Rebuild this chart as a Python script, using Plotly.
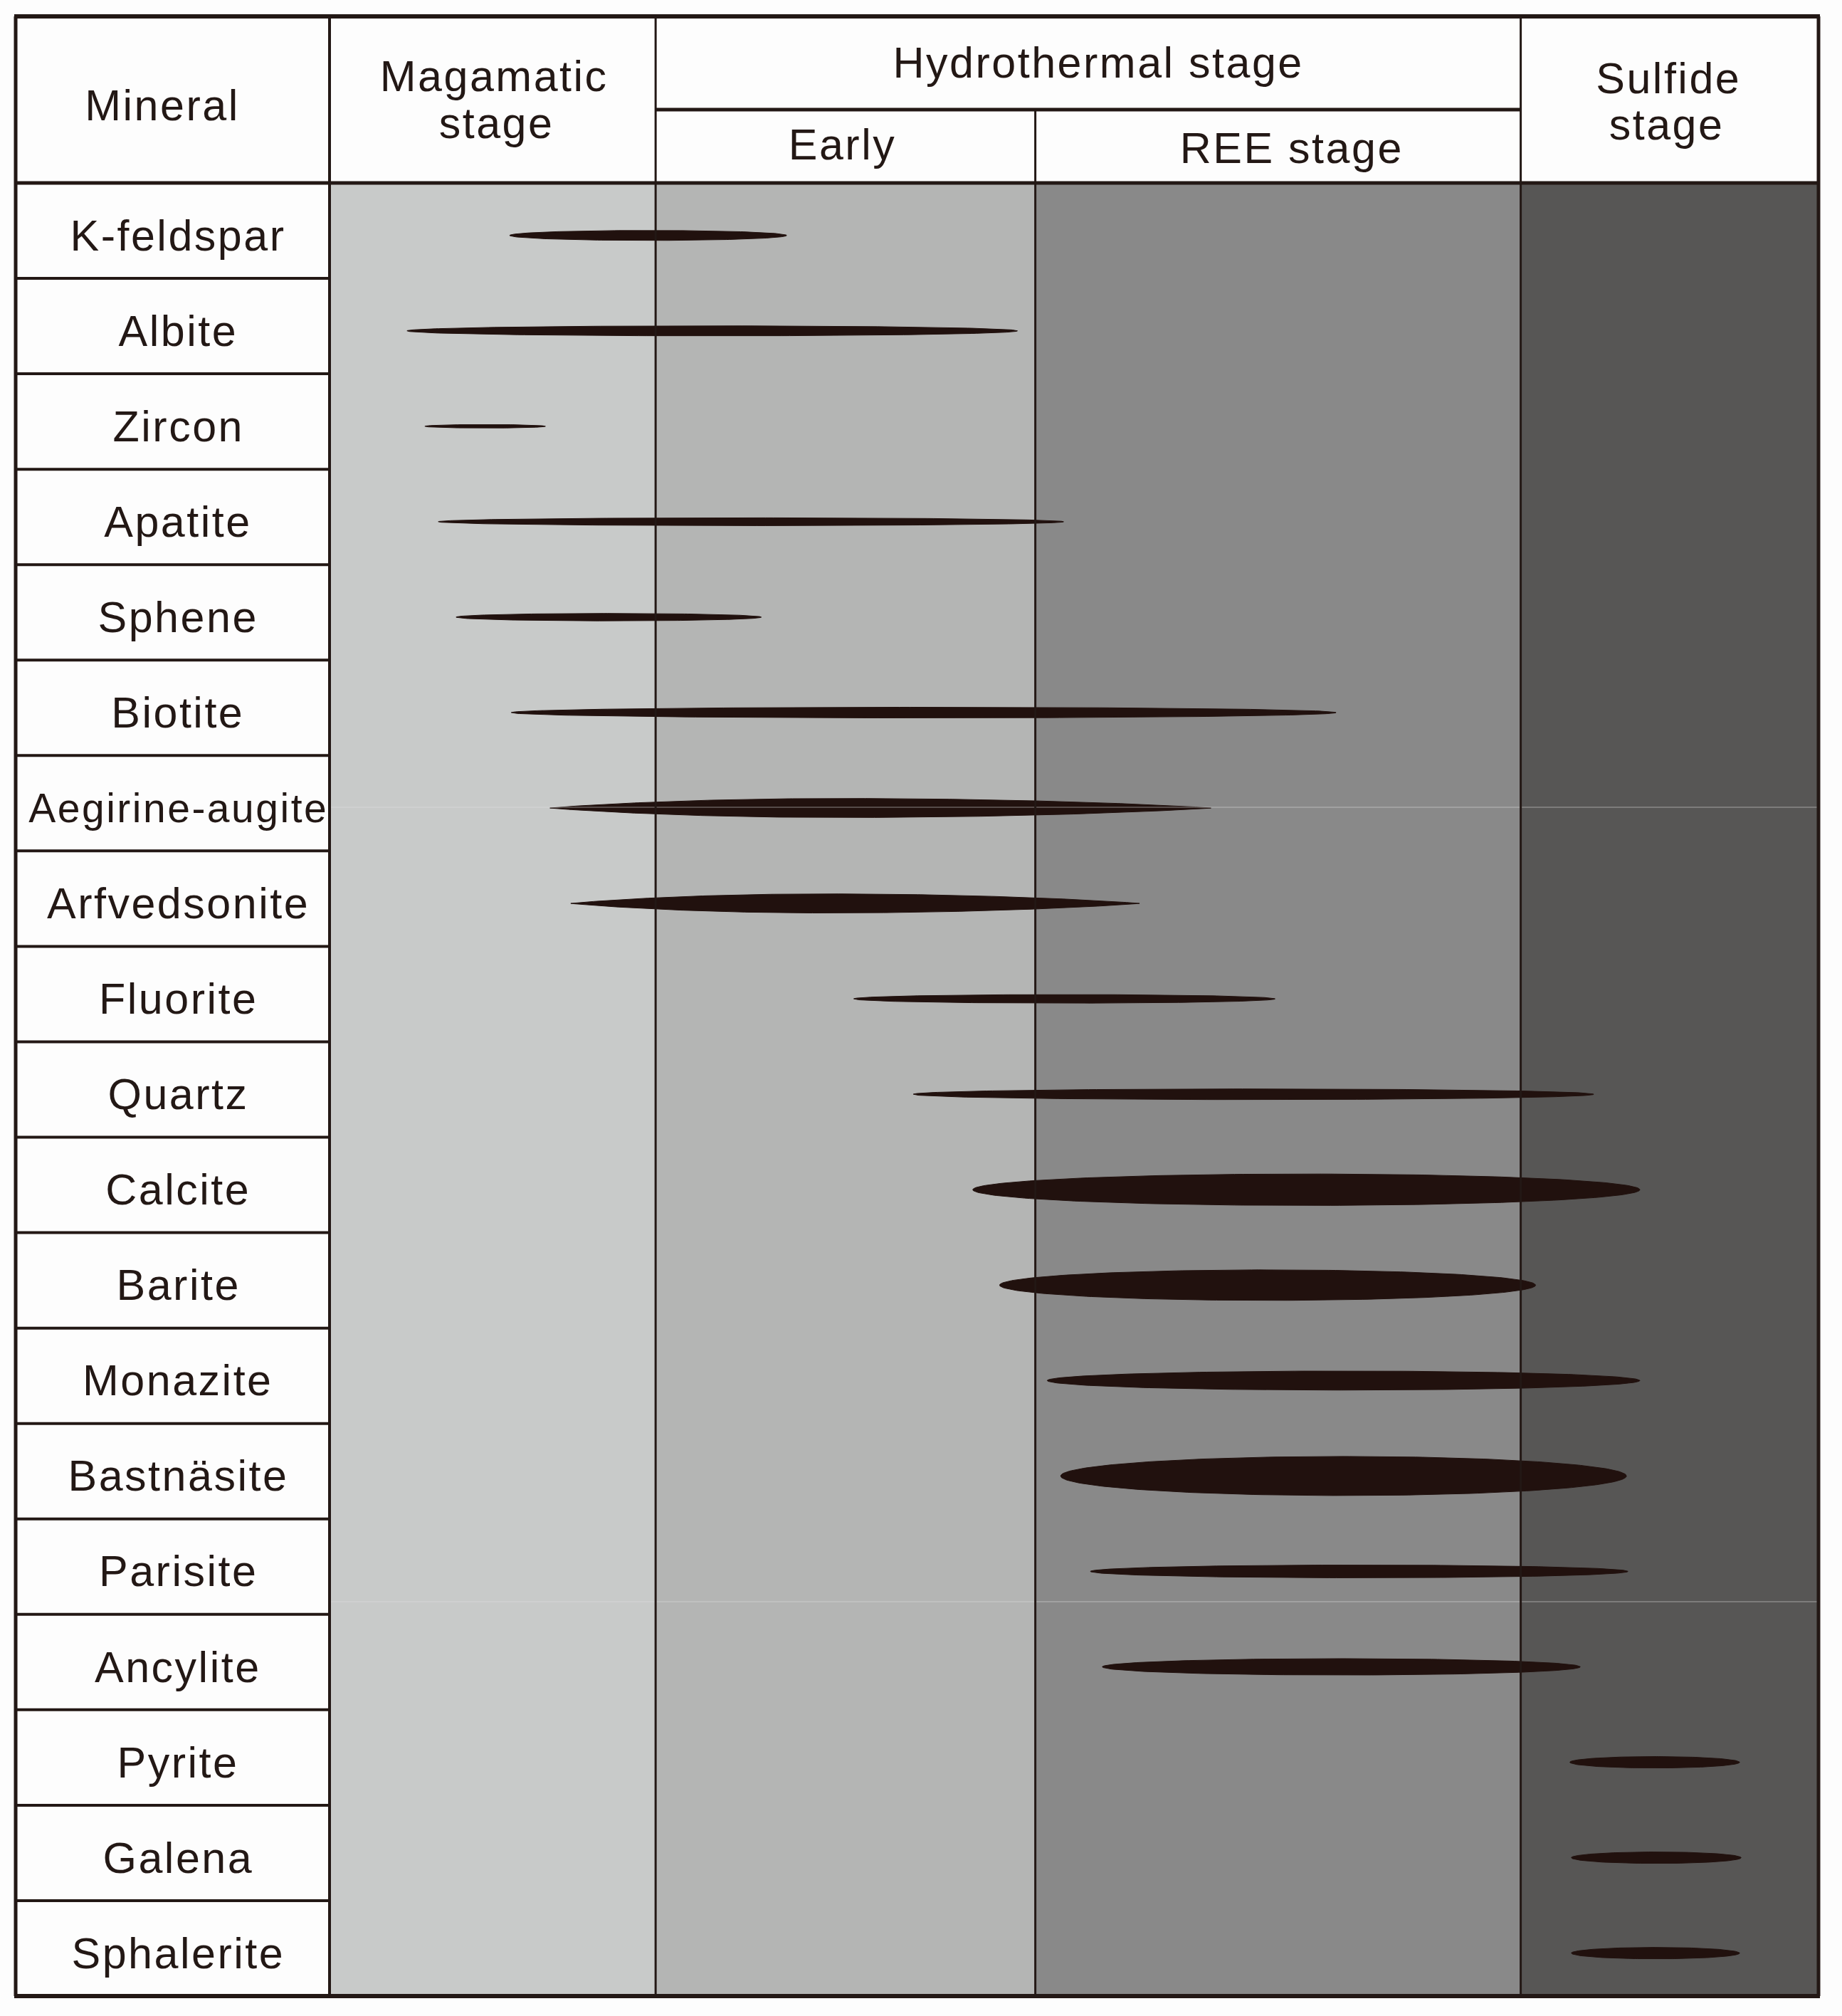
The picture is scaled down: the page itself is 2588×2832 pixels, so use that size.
import numpy as np
import plotly.graph_objects as go

W, H = 2588, 2832

# ---------------- data ----------------
minerals = ["K-feldspar", "Albite", "Zircon", "Apatite", "Sphene", "Biotite",
            "Aegirine-augite", "Arfvedsonite", "Fluorite", "Quartz", "Calcite",
            "Barite", "Monazite", "Bastnäsite", "Parisite", "Ancylite",
            "Pyrite", "Galena", "Sphalerite"]
# relative paragenetic time (0 = start of magmatic stage, 100 = end of sulfide stage)
lens_start = [12.1, 5.2, 6.4, 7.3, 8.5, 12.2, 14.8, 16.2, 35.2, 39.2, 43.2,
              45.0, 48.2, 49.1, 51.1, 51.9, 83.3, 83.4, 83.4]
lens_end = [30.7, 46.2, 14.5, 49.3, 29.0, 67.6, 59.2, 54.4, 63.5, 84.9, 88.0,
            81.0, 88.0, 87.1, 87.2, 84.0, 94.7, 94.8, 94.7]
# peak of asymmetric lenses (None = symmetric lens)
lens_peak = [None, None, None, None, None, None, 34.3, 33.3, None, None, None,
             None, None, None, None, None, None, None, None]
# relative abundance (lens thickness, fraction of a row)
lens_thick = [0.105, 0.105, 0.037, 0.082, 0.078, 0.112, 0.20, 0.20, 0.09, 0.112,
              0.33, 0.32, 0.20, 0.41, 0.134, 0.172, 0.12, 0.12, 0.12]

stage_names = ["Magamatic stage", "Early", "REE stage", "Sulfide stage"]
stage_bounds = [0, 21.9, 47.4, 80.0, 100]
stage_colors = ["#c8cac9", "#b4b5b4", "#898989", "#575655"]

# ---------------- layout geometry (pixels) ----------------
LEFT, RIGHT, TOP, BOTTOM = 22, 2555, 23, 2804
COL1 = 463          # right edge of mineral column
HDR_SPLIT = 154     # hydrothermal header split
HDR_BOT = 257       # header bottom
LABEL_X = 250       # centre of mineral labels
LINE = "#231815"
LENS = "#21110e"
FONT = "Arial, 'Liberation Sans', Helvetica, sans-serif"

def px(xp):
    return xp / W

def py(yp):
    return 1 - yp / H

n = len(minerals)
fig = go.Figure()

# lenses
for i in range(n):
    s, e, p, t = lens_start[i], lens_end[i], lens_peak[i], lens_thick[i]
    yc = i + 0.05
    hh = t / 2
    if p is None:
        th = np.linspace(0, 2 * np.pi, 240)
        xs = (s + e) / 2 + (e - s) / 2 * np.cos(th)
        ys = yc + hh * np.sin(th)
    else:
        xl = np.linspace(s, p, 80)
        xr = np.linspace(p, e, 120)[1:]
        xx = np.concatenate([xl, xr])
        u = np.where(xx <= p, (xx - p) / (p - s), (xx - p) / (e - p))
        half = hh * np.clip(1 - u ** 2, 0, None) ** 0.9
        xs = np.concatenate([xx, xx[::-1]])
        ys = np.concatenate([yc - half, (yc + half)[::-1]])
    fig.add_trace(go.Scatter(x=xs, y=ys, mode="lines", fill="toself",
                             fillcolor=LENS, line=dict(color=LENS, width=1),
                             hoverinfo="skip", showlegend=False))

shapes = []
# stage backgrounds
for k in range(len(stage_colors)):
    shapes.append(dict(type="rect", xref="x", yref="y", x0=stage_bounds[k],
                       x1=stage_bounds[k + 1], y0=-0.5, y1=n - 0.5,
                       fillcolor=stage_colors[k], line=dict(width=0), layer="below"))

def hline(y, x0, x1, w):
    shapes.append(dict(type="line", xref="paper", yref="paper", x0=px(x0), x1=px(x1),
                       y0=py(y), y1=py(y), line=dict(color=LINE, width=w)))

def vline(x, y0, y1, w):
    shapes.append(dict(type="line", xref="paper", yref="paper", x0=px(x), x1=px(x),
                       y0=py(y0), y1=py(y1), line=dict(color=LINE, width=w)))

# faint scan artefact lines
for yy in (1134, 2250):
    shapes.append(dict(type="line", xref="paper", yref="paper", x0=px(COL1), x1=px(RIGHT),
                       y0=py(yy), y1=py(yy), line=dict(color="rgba(225,225,225,0.55)", width=1)))

# mineral row separators
row_h = (BOTTOM - HDR_BOT) / n
for i in range(1, n):
    hline(HDR_BOT + i * row_h, LEFT, COL1, 4)

x_mag = COL1 + (RIGHT - COL1) * stage_bounds[1] / 100
x_ree = COL1 + (RIGHT - COL1) * stage_bounds[2] / 100
x_sul = COL1 + (RIGHT - COL1) * stage_bounds[3] / 100

vline(COL1, TOP, BOTTOM, 4)
vline(x_mag, TOP, BOTTOM, 3)
vline(x_ree, HDR_SPLIT, BOTTOM, 3)
vline(x_sul, TOP, BOTTOM, 3)
hline(HDR_SPLIT, x_mag, x_sul, 5)
hline(HDR_BOT, LEFT, RIGHT, 5)
# outer border
hline(TOP, LEFT - 2, RIGHT + 2, 6)
hline(BOTTOM, LEFT - 2, RIGHT + 2, 6)
vline(LEFT, TOP, BOTTOM, 5)
vline(RIGHT, TOP, BOTTOM, 5)

annotations = []
for i, m in enumerate(minerals):
    annotations.append(dict(text=m, xref="paper", yref="y", x=px(LABEL_X),
                            y=i + 0.05, showarrow=False, xanchor="center", yanchor="middle",
                            font=dict(family=FONT, size=57 if len(m) > 13 else 61, color=LINE)))

def htext(t, x, y, size=61):
    annotations.append(dict(text=t, xref="paper", yref="paper", x=px(x), y=py(y),
                            showarrow=False, xanchor="center", yanchor="middle",
                            font=dict(family=FONT, size=size, color=LINE)))

htext("Mineral", 228, 148)
htext("Magamatic", 694, 107)
htext("stage", 697, 173)
htext("Hydrothermal stage", 1543, 88)
htext("Early", 1183, 203)
htext("REE stage", 1815, 208)
htext("Sulfide", 2344, 110)
htext("stage", 2341, 175)

fig.update_layout(
    width=W, height=H,
    margin=dict(l=0, r=0, t=0, b=0),
    paper_bgcolor="#fdfdfd", plot_bgcolor="rgba(0,0,0,0)",
    xaxis=dict(domain=[px(COL1), px(RIGHT)], range=[0, 100], visible=False, fixedrange=True),
    yaxis=dict(domain=[py(BOTTOM), py(HDR_BOT)], range=[n - 0.5, -0.5], visible=False,
               fixedrange=True),
    shapes=shapes, annotations=annotations, showlegend=False,
)

post = """
var st = document.createElement('style');
st.textContent = 'html,body{margin:0;padding:0;background:#fdfdfd;} .annotation-text{letter-spacing:2.5px;}';
document.head.appendChild(st);
"""
fig.write_html("out.html", post_script=post, config={"displayModeBar": False, "staticPlot": True})
